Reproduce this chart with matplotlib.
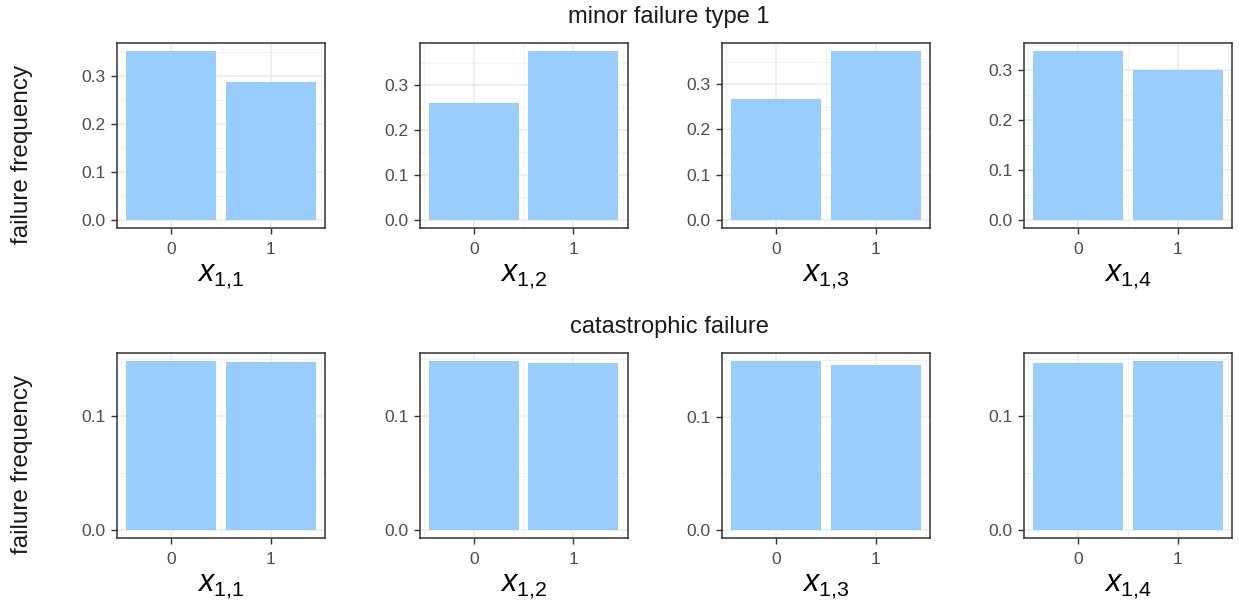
import numpy as np
import matplotlib
matplotlib.use("Agg")
import matplotlib.pyplot as plt
from matplotlib.ticker import FixedLocator

plt.rcParams['font.family'] = ['Liberation Sans', 'DejaVu Sans']
plt.rcParams['mathtext.fontset'] = 'custom'
plt.rcParams['mathtext.rm'] = 'Liberation Sans'
plt.rcParams['mathtext.it'] = 'Liberation Sans:italic'

# data
levels = [0, 1]
minor_freq = [
    [0.352, 0.287],
    [0.260, 0.376],
    [0.267, 0.373],
    [0.338, 0.300],
]
catastrophic_freq = [
    [0.1482, 0.1474],
    [0.1480, 0.1470],
    [0.1488, 0.1460],
    [0.1470, 0.1482],
]
row_titles = ["minor failure type 1", "catastrophic failure"]
x_labels = [r"$x_{1{,}1}$", r"$x_{1{,}2}$", r"$x_{1{,}3}$", r"$x_{1{,}4}$"]
y_label = "failure frequency"

bar_color = "#99CCFF"
W, H = 1239, 604
fig = plt.figure(figsize=(W / 100, H / 100), dpi=100)

lefts = [117, 419.5, 722, 1024]
pw = 208
rows = [(43, 228), (353, 538)]
row_major = [[0, 0.1, 0.2, 0.3], [0, 0.1]]
row_minor = [[0.05, 0.15, 0.25, 0.35], [0.05, 0.15]]

for r, data in enumerate([minor_freq, catastrophic_freq]):
    top, bot = rows[r]
    for c in range(4):
        ax = fig.add_axes([lefts[c] / W, 1 - bot / H, pw / W, (bot - top) / H])
        vals = data[c]
        ymax = max(vals)
        ax.bar(levels, vals, width=0.9, color=bar_color, zorder=2)
        ax.set_xlim(-0.545, 1.545)
        ax.set_ylim(-0.05 * ymax, 1.05 * ymax)
        ax.xaxis.set_major_locator(FixedLocator(levels))
        ax.xaxis.set_minor_locator(FixedLocator([-0.5, 0.5, 1.5]))
        ax.yaxis.set_major_locator(FixedLocator(row_major[r]))
        ax.yaxis.set_minor_locator(FixedLocator(row_minor[r]))
        ax.set_xticklabels(["0", "1"])
        ax.set_yticklabels([f"{v:.1f}" for v in row_major[r]])
        ax.grid(which="major", color="#EBEBEB", linewidth=1.1, zorder=0)
        ax.grid(which="minor", color="#F0F0F0", linewidth=0.55, zorder=0)
        ax.set_axisbelow(True)
        ax.tick_params(which="major", length=4, width=1, color="#333333",
                       labelcolor="#4D4D4D", labelsize=12.5, pad=4)
        ax.tick_params(axis="x", which="major", pad=6)
        ax.tick_params(which="minor", length=0)
        for s in ax.spines.values():
            s.set_color("#333333")
            s.set_linewidth(1.1)
        ax.set_xlabel(x_labels[c], fontsize=22, labelpad=3)
    fig.text(669 / W, 1 - (top - 26) / H, row_titles[r], ha="center",
             va="center", fontsize=17, color="#1A1A1A")
    fig.text(22 / W, 1 - (top + 111) / H, y_label, rotation=90, ha="center",
             va="center", fontsize=17.5, color="#1A1A1A")

fig.savefig("out.png", dpi=100)
